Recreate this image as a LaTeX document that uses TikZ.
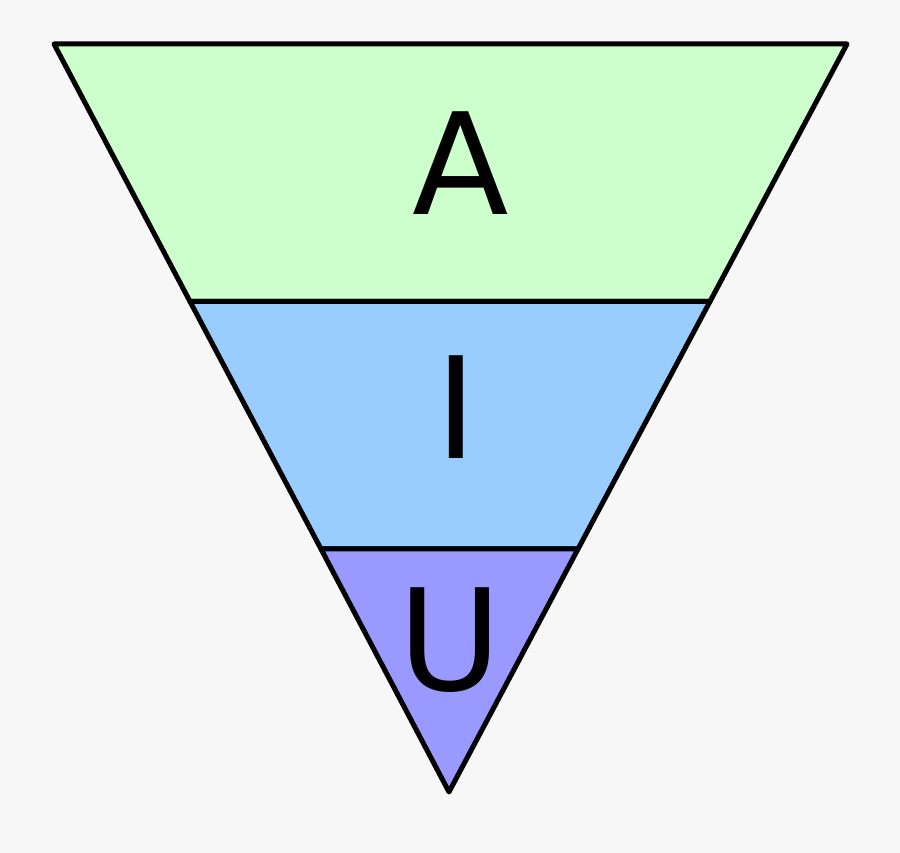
\documentclass[tikz,border=0pt]{standalone}
\usepackage{fontspec}
\setmainfont{DejaVu Sans}
\definecolor{bg}{HTML}{F7F7F7}
\definecolor{topc}{HTML}{CCFFCC}
\definecolor{midc}{HTML}{99CCFF}
\definecolor{botc}{HTML}{9999FF}
\begin{document}
\begin{tikzpicture}[x=1pt,y=1pt,
  band/.style={draw=black,line width=5pt,line join=round},
  letter/.style={anchor=base,inner sep=0pt,font=\fontsize{141}{141}\selectfont}]
\fill[bg] (0,0) rectangle (900,853);
\useasboundingbox (0,0) rectangle (900,853);
\coordinate (TL) at (54,809);
\coordinate (TR) at (847,809);
\coordinate (B) at (449,61);
\coordinate (L1) at (190,551.5);
\coordinate (R1) at (710,551.5);
\coordinate (L2) at (321,304);
\coordinate (R2) at (578,304);
\filldraw[band,fill=topc] (TL) -- (TR) -- (R1) -- (L1) -- cycle;
\filldraw[band,fill=midc] (L1) -- (R1) -- (R2) -- (L2) -- cycle;
\filldraw[band,fill=botc] (L2) -- (R2) -- (B) -- cycle;
\node[letter] (a) at (461,638) {A};
\node[letter] (i) at (456,394) {I};
\node[letter] (u) at (450,162) {U};
\end{tikzpicture}
\end{document}
